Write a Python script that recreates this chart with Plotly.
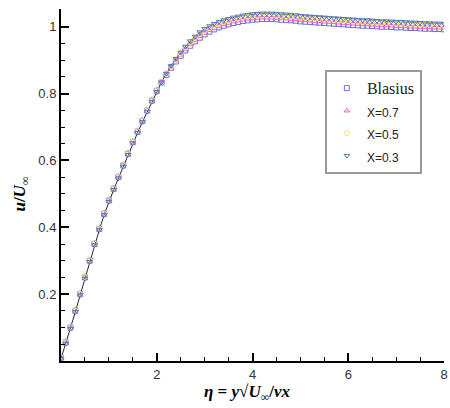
import plotly.graph_objects as go

# similarity coordinate eta and velocity profiles u/U_inf
eta = [0.0, 0.1, 0.2, 0.3, 0.4, 0.5, 0.6, 0.7, 0.8, 0.9,
       1.0, 1.1, 1.2, 1.3, 1.4, 1.5, 1.6, 1.7, 1.8, 1.9,
       2.0, 2.1, 2.2, 2.3, 2.4, 2.5, 2.6, 2.7, 2.8, 2.9,
       3.0, 3.1, 3.2, 3.3, 3.4, 3.5, 3.6, 3.7, 3.8, 3.9,
       4.0, 4.1, 4.2, 4.3, 4.4, 4.5, 4.6, 4.7, 4.8, 4.9,
       5.0, 5.1, 5.2, 5.3, 5.4, 5.5, 5.6, 5.7, 5.8, 5.9,
       6.0, 6.1, 6.2, 6.3, 6.4, 6.5, 6.6, 6.7, 6.8, 6.9,
       7.0, 7.1, 7.2, 7.3, 7.4, 7.5, 7.6, 7.7, 7.8, 7.9, 8.0]

u_blasius = [0.010, 0.055, 0.100, 0.150, 0.200, 0.250, 0.300, 0.350, 0.395, 0.440,
             0.480, 0.515, 0.550, 0.585, 0.620, 0.655, 0.686, 0.718, 0.749, 0.779,
             0.808, 0.833, 0.856, 0.877, 0.896, 0.913, 0.929, 0.943, 0.956, 0.967,
             0.977, 0.985, 0.992, 0.998, 1.003, 1.007, 1.011, 1.014, 1.017, 1.019,
             1.021, 1.022, 1.023, 1.023, 1.023, 1.022, 1.021, 1.020, 1.019, 1.018,
             1.016, 1.015, 1.014, 1.013, 1.012, 1.011, 1.010, 1.009, 1.008, 1.007,
             1.006, 1.005, 1.004, 1.003, 1.003, 1.002, 1.001, 1.000, 1.000, 0.999,
             0.998, 0.998, 0.997, 0.996, 0.996, 0.995, 0.994, 0.994, 0.993, 0.993, 0.992]

u_x07 = [0.014, 0.059, 0.104, 0.154, 0.204, 0.254, 0.304, 0.354, 0.399, 0.444,
         0.484, 0.519, 0.554, 0.589, 0.624, 0.659, 0.690, 0.722, 0.753, 0.783,
         0.812, 0.836, 0.859, 0.880, 0.899, 0.916, 0.932, 0.947, 0.959, 0.971,
         0.981, 0.989, 0.996, 1.002, 1.007, 1.011, 1.015, 1.018, 1.021, 1.023,
         1.025, 1.026, 1.027, 1.027, 1.027, 1.026, 1.025, 1.024, 1.023, 1.022,
         1.020, 1.019, 1.018, 1.017, 1.016, 1.015, 1.014, 1.013, 1.012, 1.011,
         1.010, 1.009, 1.008, 1.007, 1.007, 1.006, 1.005, 1.004, 1.004, 1.003,
         1.002, 1.002, 1.001, 1.000, 1.000, 0.999, 0.998, 0.998, 0.997, 0.997, 0.996]

u_x05 = [0.011, 0.056, 0.101, 0.151, 0.201, 0.251, 0.301, 0.351, 0.396, 0.441,
         0.481, 0.516, 0.551, 0.586, 0.621, 0.656, 0.687, 0.719, 0.750, 0.780,
         0.809, 0.836, 0.860, 0.882, 0.903, 0.921, 0.938, 0.953, 0.966, 0.978,
         0.988, 0.996, 1.003, 1.009, 1.014, 1.018, 1.022, 1.025, 1.028, 1.030,
         1.032, 1.033, 1.034, 1.034, 1.034, 1.033, 1.032, 1.031, 1.030, 1.029,
         1.027, 1.026, 1.025, 1.024, 1.023, 1.022, 1.021, 1.020, 1.019, 1.018,
         1.017, 1.016, 1.015, 1.014, 1.014, 1.013, 1.012, 1.011, 1.011, 1.010,
         1.009, 1.009, 1.008, 1.007, 1.007, 1.006, 1.005, 1.005, 1.004, 1.004, 1.003]

u_x03 = [0.007, 0.052, 0.097, 0.147, 0.197, 0.247, 0.297, 0.347, 0.392, 0.437,
         0.477, 0.512, 0.547, 0.582, 0.617, 0.652, 0.683, 0.715, 0.746, 0.776,
         0.805, 0.834, 0.860, 0.883, 0.904, 0.923, 0.941, 0.957, 0.971, 0.984,
         0.994, 1.002, 1.009, 1.015, 1.020, 1.024, 1.028, 1.031, 1.034, 1.036,
         1.038, 1.039, 1.040, 1.040, 1.040, 1.039, 1.038, 1.037, 1.036, 1.035,
         1.033, 1.032, 1.031, 1.030, 1.029, 1.028, 1.027, 1.026, 1.025, 1.024,
         1.023, 1.022, 1.021, 1.020, 1.020, 1.019, 1.018, 1.017, 1.017, 1.016,
         1.015, 1.015, 1.014, 1.013, 1.013, 1.012, 1.011, 1.011, 1.010, 1.010, 1.009]

x_ticks = [2, 4, 6, 8]
x_labels = ["2", "4", "6", "8"]
y_ticks = [0.2, 0.4, 0.6, 0.8, 1]
y_labels = ["0.2", "0.4", "0.6", "0.8", "1"]

SERIF = "Liberation Serif, Times New Roman, serif"
SANS = "Liberation Sans, Arial, sans-serif"

fig = go.Figure()

# thin dark line running through the X=0.3 markers
fig.add_trace(go.Scatter(x=eta, y=u_x03, mode="lines", showlegend=False,
                         line=dict(color="#1c2a4a", width=1), hoverinfo="skip"))


def small(label):
    return "<span style='font-size:12px'>" + label + "</span>"


series = [
    ("<span style='font-family:Liberation Serif;font-size:16px'>Blasius</span>",
     u_blasius, "square-open", "#6f6fd6"),
    (small("X=0.7"), u_x07, "triangle-up-open", "#f060c8"),
    (small("X=0.5"), u_x05, "circle-open", "#f5e470"),
    (small("X=0.3"), u_x03, "triangle-down-open", "#5478b8"),
]
for name, vals, sym, col in series:
    fig.add_trace(go.Scatter(
        x=eta, y=vals, mode="markers", name=name,
        marker=dict(symbol=sym, size=5, color=col, line=dict(color=col, width=1)),
    ))

axis_common = dict(
    showline=True, linecolor="black", linewidth=2,
    ticks="inside", ticklen=8, tickwidth=2, tickcolor="black",
    showgrid=False, zeroline=False, mirror=False, automargin=False,
    tickfont=dict(family=SANS, size=13, color="#333333"),
)
fig.update_xaxes(range=[0, 8], tickvals=x_ticks, ticktext=x_labels,
                 minor=dict(dtick=0.5, ticks="inside", ticklen=4, tickwidth=1, tickcolor="black"),
                 **axis_common)
fig.update_yaxes(range=[0, 1.053], tickvals=y_ticks, ticktext=y_labels,
                 minor=dict(dtick=0.05, ticks="inside", ticklen=4, tickwidth=1, tickcolor="black"),
                 **axis_common)

fig.update_layout(
    width=450, height=408,
    margin=dict(l=61, r=6, t=9, b=47),
    plot_bgcolor="white", paper_bgcolor="white",
    legend=dict(
        x=0.689, y=0.827, xanchor="left", yanchor="top",
        bordercolor="#999999", borderwidth=2, bgcolor="white",
        font=dict(family=SANS, size=15, color="#222222"),
        tracegroupgap=0,
    ),
    annotations=[
        dict(text="<b><i>η</i> = <i>y</i>√<i>U</i><sub>∞</sub>/<i>νx</i></b>",
             xref="paper", yref="paper", x=0.485, y=-0.055, xanchor="center", yanchor="top",
             showarrow=False, font=dict(family=SERIF, size=17, color="black")),
        dict(text="<b><i>u</i>/<i>U</i><sub>∞</sub></b>",
             xref="paper", yref="paper", x=-0.105, y=0.475, xanchor="center", yanchor="middle",
             textangle=-90, showarrow=False, font=dict(family=SERIF, size=17, color="black")),
    ],
)

# drop the default page margin so the figure sits at the window's corner
fig.write_html("out.html", config={"displayModeBar": False},
               post_script="document.body.style.margin='0';")
